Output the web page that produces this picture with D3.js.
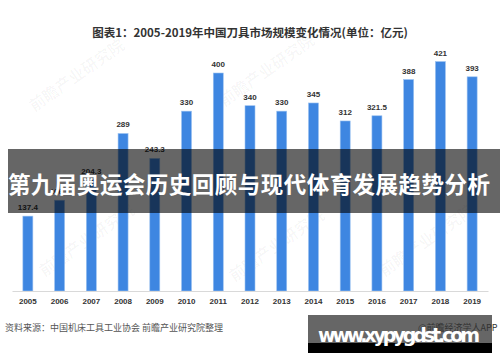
<!DOCTYPE html>
<html><head><meta charset="utf-8">
<script src="https://cdn.jsdelivr.net/npm/d3@7"></script>
<style>body{margin:0;background:#fff}svg{display:block}</style>
</head><body>
<script>
const years = ["2005","2006","2007","2008","2009","2010","2011","2012","2013","2014","2015","2016","2017","2018","2019"];
const values = [137.4,166.6,204.3,289,243.3,330,400,340,330,345,312,321.5,388,421,393];
const valueLabels = ["137.4","166.6","204.3","289","243.3","330","400","340","330","345","312","321.5","388","421","393"];
const title = "图表1：2005-2019年中国刀具市场规模变化情况(单位：亿元)";
const source = "资料来源：中国机床工具工业协会 前瞻产业研究院整理";
const banner = "第九届奥运会历史回顾与现代体育发展趋势分析";
const site = "www.xypygdst.com";
const credit = "@前瞻经济学人APP";

const W = 500, H = 362;
const svg = d3.select("body").append("svg").attr("width", W).attr("height", H);
const font = "'Noto Sans CJK SC','Microsoft YaHei',sans-serif";

svg.append("rect").attr("width", W).attr("height", H).attr("fill", "#fff");

// faint watermarks
const wm = [[80,80],[270,75],[90,245],[280,250],[430,245]];
wm.forEach(([x,y]) => {
  svg.append("text").attr("transform", `translate(${x},${y}) rotate(-35)`)
    .attr("text-anchor","middle").attr("font-family", font).attr("font-size", 16)
    .attr("font-weight","bold").attr("fill","#000").attr("fill-opacity",0.035).text("前瞻产业研究院");
});

svg.append("text").attr("x", 250).attr("y", 37).attr("text-anchor","middle")
  .attr("font-family", font).attr("font-size", 11.5).attr("font-weight","bold").attr("fill","#333").text(title);

const x = d3.scaleBand().domain(years).range([12, 488]).paddingInner(0.685).paddingOuter(0.3425);
const y = d3.scaleLinear().domain([0, 450]).range([291, 291 - 450*0.545]);

svg.append("g").selectAll("rect").data(years).join("rect")
  .attr("x", d => x(d)).attr("width", x.bandwidth())
  .attr("y", (d,i) => y(values[i])).attr("height", (d,i) => y(0) - y(values[i]))
  .attr("fill", "#3e86e1").attr("stroke","#9cc2f0").attr("stroke-width",0.6);

svg.append("g").selectAll("text").data(years).join("text")
  .attr("x", d => x(d) + x.bandwidth()/2).attr("y", (d,i) => y(values[i]) - 6)
  .attr("text-anchor","middle").attr("font-family","'Liberation Sans',Arial,sans-serif")
  .attr("font-size", 8).attr("font-weight","bold").attr("fill","#333")
  .text((d,i) => valueLabels[i]);

const ax = svg.append("g").attr("transform", `translate(0,${y(0)})`)
  .call(d3.axisBottom(x).tickSize(0).tickPadding(7));
ax.select(".domain").attr("stroke","#d9d9d9").attr("stroke-width",1);
ax.selectAll("text").attr("font-family","'Liberation Sans',Arial,sans-serif")
  .attr("font-size", 8).attr("font-weight","bold").attr("fill","#333");

svg.append("text").attr("x", 5).attr("y", 331)
  .attr("font-family", font).attr("font-size", 9).attr("fill","#555").text(source);

// banner overlay
svg.append("rect").attr("x", 8).attr("y", 149).attr("width", 492).attr("height", 64)
  .attr("fill","#000").attr("fill-opacity",0.6);
svg.append("text").attr("x", 249).attr("y", 193).attr("text-anchor","middle")
  .attr("font-family", font).attr("font-size", 22.5).attr("font-weight","bold")
  .attr("fill","#fff").attr("textLength", 482).text(banner);

// site box
svg.append("rect").attr("x", 308).attr("y", 315).attr("width", 184).attr("height", 29)
  .attr("fill","#000").attr("fill-opacity",0.6);
svg.append("rect").attr("x", 308).attr("y", 343).attr("width", 184).attr("height", 10).attr("fill","#000");
svg.append("text").attr("x", 418).attr("y", 331)
  .attr("font-family", font).attr("font-size", 9).attr("fill","#333").text(credit);
svg.append("text").attr("x", 318).attr("y", 342)
  .attr("font-family","'DejaVu Sans',sans-serif").attr("font-size", 19).attr("font-weight","bold")
  .attr("fill","#fff").attr("textLength", 162).text(site);
</script>
</body></html>
